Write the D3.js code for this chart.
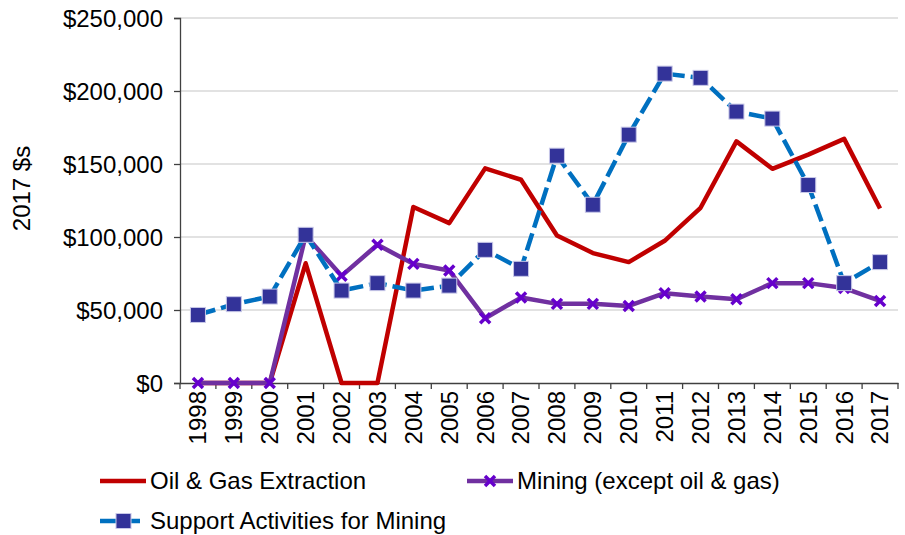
<!DOCTYPE html>
<html>
<head>
<meta charset="utf-8">
<script src="https://cdn.jsdelivr.net/npm/d3@7"></script>
<style>
  body { margin: 0; background: #fff; }
  text { font-family: "Liberation Sans", Arial, sans-serif; fill: #000; }
</style>
</head>
<body>
<div id="chart"></div>
<script>
// categories and series values (2017 $s)
var years = ["1998","1999","2000","2001","2002","2003","2004","2005","2006","2007",
             "2008","2009","2010","2011","2012","2013","2014","2015","2016","2017"];
var oilGas  = [0, 0, 0, 82000, 0, 0, 120500, 109500, 147000, 139200,
               101000, 89000, 82800, 97400, 120000, 165500, 146700, 156400, 167200, 119500];
var mining  = [0, 0, 0, 101000, 73400, 94700, 81600, 77000, 44400, 58500,
               54200, 54200, 52800, 61500, 59200, 57400, 68400, 68400, 65000, 56200];
var support = [46600, 54000, 59200, 101500, 63300, 68400, 63300, 66700, 91200, 78200,
               155700, 122100, 170100, 211900, 209000, 185900, 181100, 135600, 68400, 82800];
var yTicks = [0, 50000, 100000, 150000, 200000, 250000];
var seriesNames = ["Oil & Gas Extraction", "Mining (except oil & gas)", "Support Activities for Mining"];

var W = 905, H = 535;
var margin = {top: 18, right: 7, bottom: 152, left: 180};
var width = W - margin.left - margin.right,
    height = H - margin.top - margin.bottom;
var fs = "24px";

var svg = d3.select("#chart").append("svg")
    .attr("width", W).attr("height", H);
var g = svg.append("g")
    .attr("transform", "translate(" + margin.left + "," + margin.top + ")");

var x = d3.scaleBand().domain(years).range([0, width]);
var y = d3.scaleLinear().domain([0, 250000]).range([height, 0]);
var cx = function(i) { return x(years[i]) + x.bandwidth() / 2; };

// gridlines
g.selectAll(".grid").data(yTicks.slice(1)).enter().append("line")
  .attr("x1", 0).attr("x2", width)
  .attr("y1", function(d) { return y(d); }).attr("y2", function(d) { return y(d); })
  .style("stroke", "#d9d9d9").style("stroke-width", 1.3);

// y axis
var fmt = function(d) { return "$" + d3.format(",")(d); };
var yAxis = g.append("g").call(d3.axisLeft(y).tickValues(yTicks).tickFormat(fmt).tickSize(6).tickPadding(11));
yAxis.select(".domain").style("stroke", "#404040").style("stroke-width", 1.3);
yAxis.selectAll(".tick line").style("stroke", "#404040").style("stroke-width", 1.3);
yAxis.selectAll("text").style("font-size", fs).attr("dy", "0.35em");

// x axis (ticks between categories)
var xAxis = g.append("g").attr("transform", "translate(0," + height + ")")
  .call(d3.axisBottom(x).tickSize(0).tickPadding(0));
xAxis.select(".domain").style("stroke", "#404040").style("stroke-width", 1.3);
xAxis.selectAll(".tick text")
  .style("font-size", fs)
  .attr("text-anchor", "end")
  .attr("transform", "rotate(-90)")
  .attr("x", -8).attr("y", 0).attr("dy", "0.35em");
g.selectAll(".xt").data(d3.range(years.length + 1)).enter().append("line")
  .attr("x1", function(i) { return i * x.step(); }).attr("x2", function(i) { return i * x.step(); })
  .attr("y1", height).attr("y2", height + 6)
  .style("stroke", "#404040").style("stroke-width", 1.3);

// axis title
svg.append("text")
  .attr("transform", "translate(30," + (margin.top + height / 2 - 12) + ") rotate(-90)")
  .attr("text-anchor", "middle")
  .style("font-size", fs)
  .text("2017 $s");

var line = d3.line().x(function(d, i) { return cx(i); }).y(function(d) { return y(d); });

// series lines: oil & gas, mining, support
g.append("path").datum(oilGas).attr("d", line)
  .style("fill", "none").style("stroke", "#c00000").style("stroke-width", 4.5)
  .style("stroke-linejoin", "round");

g.append("path").datum(mining).attr("d", line)
  .style("fill", "none").style("stroke", "#7030a0").style("stroke-width", 4.5)
  .style("stroke-linejoin", "round");

function xMark(sel, px, py) {
  var s = 5;
  sel.append("path")
    .attr("d", "M" + (px - s) + "," + (py - s) + "L" + (px + s) + "," + (py + s) +
               "M" + (px - s) + "," + (py + s) + "L" + (px + s) + "," + (py - s))
    .style("stroke", "#6600cc").style("stroke-width", 3.5).style("fill", "none");
}
mining.forEach(function(d, i) { xMark(g, cx(i), y(d)); });

g.append("path").datum(support).attr("d", line)
  .style("fill", "none").style("stroke", "#0070c0").style("stroke-width", 4.5)
  .style("stroke-dasharray", "18,6");

g.selectAll(".sq").data(support).enter().append("rect")
  .attr("x", function(d, i) { return cx(i) - 7.5; })
  .attr("y", function(d) { return y(d) - 7.5; })
  .attr("width", 15).attr("height", 15)
  .style("fill", "#333399").style("stroke", "#c8c8e8").style("stroke-width", 1);

// legend
var leg = svg.append("g");
function legItem(lx, ly, color, name, dash, marker) {
  leg.append("line").attr("x1", lx).attr("x2", lx + 46).attr("y1", ly).attr("y2", ly)
    .style("stroke", color).style("stroke-width", 4.5)
    .style("stroke-dasharray", dash ? "17,6" : null);
  if (marker === "x") xMark(leg, lx + 23, ly);
  if (marker === "sq") leg.append("rect").attr("x", lx + 16).attr("y", ly - 7.5)
    .attr("width", 15).attr("height", 15)
    .style("fill", "#333399").style("stroke", "#c8c8e8").style("stroke-width", 1);
  leg.append("text").attr("x", lx + 50).attr("y", ly).attr("dy", "0.35em")
    .style("font-size", fs).text(name);
}
legItem(100, 481, "#c00000", seriesNames[0], false, null);
legItem(467, 481, "#7030a0", seriesNames[1], false, "x");
legItem(100, 521, "#0070c0", seriesNames[2], true, "sq");
</script>
</body>
</html>
